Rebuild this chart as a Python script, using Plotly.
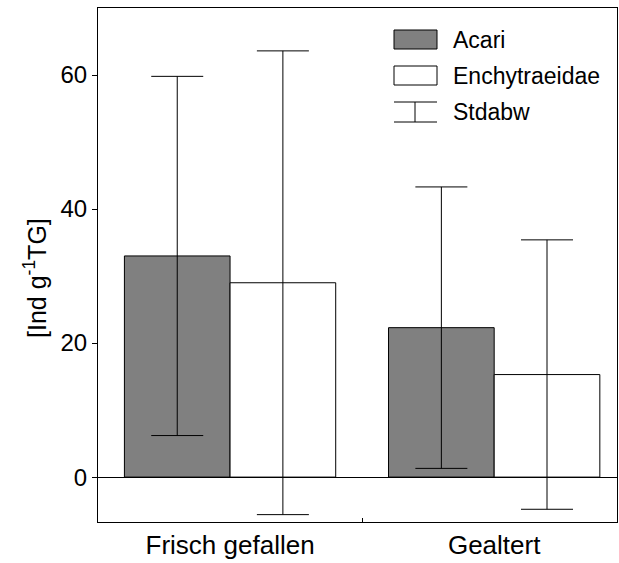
import plotly.graph_objects as go

categories = ["Frisch gefallen", "Gealtert"]
acari = [33.0, 22.3]
acari_sd = [26.8, 21.0]
enchy = [29.0, 15.3]
enchy_sd = [34.6, 20.1]

FONT = "Liberation Sans, Arial, sans-serif"

# plot area in pixels (used for the hand-made legend and title)
L, R, T, B = 98, 617, 8, 522


def px(x):
    return (x - L) / (R - L)


def py(y):
    return (B - y) / (B - T)


fig = go.Figure()
fig.add_trace(go.Bar(
    x=categories, y=acari, name="Acari",
    marker=dict(color="#808080", line=dict(color="black", width=1)),
    error_y=dict(type="data", array=acari_sd, color="black", thickness=1, width=26),
    showlegend=False,
))
fig.add_trace(go.Bar(
    x=categories, y=enchy, name="Enchytraeidae",
    marker=dict(color="white", line=dict(color="black", width=1)),
    error_y=dict(type="data", array=enchy_sd, color="black", thickness=1, width=26),
    showlegend=False,
))

line = dict(color="black", width=1)
shapes = [
    dict(type="rect", xref="paper", yref="paper", x0=px(394), x1=px(437), y0=py(49), y1=py(30),
         fillcolor="#808080", line=line),
    dict(type="rect", xref="paper", yref="paper", x0=px(394), x1=px(437), y0=py(85), y1=py(66),
         fillcolor="white", line=line),
    dict(type="line", xref="paper", yref="paper", x0=px(415), x1=px(415), y0=py(122), y1=py(102), line=line),
    dict(type="line", xref="paper", yref="paper", x0=px(394), x1=px(437), y0=py(102), y1=py(102), line=line),
    dict(type="line", xref="paper", yref="paper", x0=px(394), x1=px(437), y0=py(122), y1=py(122), line=line),
]
annotations = [
    dict(text=t, xref="paper", yref="paper", x=px(451), y=py(yy), xanchor="left", yanchor="middle",
         showarrow=False, font=dict(family=FONT, size=23, color="black"))
    for t, yy in [("Acari", 40), ("Enchytraeidae", 76), ("Stdabw", 112)]
]
annotations.append(dict(
    text="[Ind g<sup>-1</sup>TG]", xref="paper", yref="paper", x=px(35), y=py(278),
    xanchor="center", yanchor="middle", textangle=-90, showarrow=False,
    font=dict(family=FONT, size=25, color="black"),
))

fig.update_layout(
    width=619, height=563,
    margin=dict(l=L, r=619 - R, t=T, b=563 - B),
    paper_bgcolor="white", plot_bgcolor="white",
    barmode="group", bargap=0.2, bargroupgap=0,
    font=dict(family=FONT, size=24, color="black"),
    shapes=shapes, annotations=annotations,
    xaxis=dict(
        range=[-0.5, 1.465],
        showline=True, mirror=True, linecolor="black", linewidth=1,
        ticks="inside", tickson="boundaries", ticklen=4, tickcolor="black",
        showgrid=False, tickfont=dict(size=26),
    ),
    yaxis=dict(
        range=[-6.7, 70], tickvals=[0, 20, 40, 60],
        showline=True, mirror=True, linecolor="black", linewidth=1,
        ticks="outside", ticklen=5, tickcolor="black", showgrid=False,
        zeroline=True, zerolinecolor="black", zerolinewidth=1,
        tickfont=dict(size=24),
    ),
)

fig.write_html(
    "out.html",
    config={"displayModeBar": False},
    post_script="document.body.style.margin='0px';document.body.style.overflow='hidden';",
)
